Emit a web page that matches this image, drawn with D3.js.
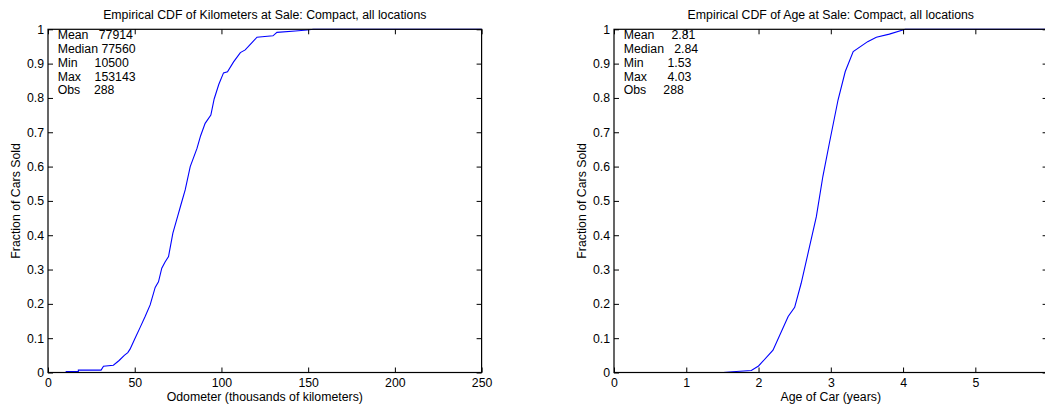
<!DOCTYPE html>
<html>
<head>
<meta charset="utf-8">
<script src="https://cdn.jsdelivr.net/npm/d3@7"></script>
<style>
body { margin: 0; background: #fff; }
svg text { font-family: "Liberation Sans", Arial, Helvetica, sans-serif; font-size: 12.3px; fill: #000; }
.stats text { white-space: pre; }
</style>
</head>
<body>
<div id="chart"></div>
<script>
// odometer CDF (thousands of km)
var kmValues = [0, 10.5, 10.5, 17.5, 17.5, 30.6, 32, 37.7, 41, 44, 46, 47.3, 50.2, 53, 56, 58.9, 61.8, 63.7,
    65.6, 67.5, 69.5, 72, 74.7, 76.6, 79.1, 82, 85.9, 88, 90.6, 93.9, 95.8, 98.5, 101.2, 103.5, 107, 110.9,
    113.7, 117.6, 120.5, 125, 129.7, 132, 142.6, 149.4, 153.1, 250];
var kmFraction = [0, 0, 0.003, 0.003, 0.007, 0.007, 0.018, 0.021, 0.035, 0.05, 0.058, 0.068, 0.1, 0.13, 0.163,
    0.197, 0.248, 0.264, 0.304, 0.322, 0.338, 0.406, 0.454, 0.488, 0.532, 0.6, 0.653, 0.69, 0.726, 0.75, 0.797,
    0.84, 0.873, 0.876, 0.905, 0.932, 0.94, 0.961, 0.977, 0.979, 0.981, 0.991, 0.995, 0.998, 1, 1];

// age CDF (years)
var ageValues = [0, 1.51, 1.64, 1.90, 2.00, 2.20, 2.41, 2.50, 2.59, 2.69, 2.80, 2.89, 2.98, 3.10, 3.20, 3.31,
    3.51, 3.63, 3.81, 4.03, 6];
var ageFraction = [0, 0, 0.002, 0.006, 0.019, 0.065, 0.163, 0.19, 0.26, 0.352, 0.454, 0.571, 0.668, 0.794,
    0.877, 0.935, 0.964, 0.977, 0.986, 1, 1];

var kmStats = ["Mean   77914", "Median 77560", "Min     10500", "Max    153143", "Obs    288"];
var ageStats = ["Mean     2.81", "Median   2.84", "Min       1.53", "Max      4.03", "Obs     288"];

var kmTicks = [0, 50, 100, 150, 200, 250];
var ageTicks = [0, 1, 2, 3, 4, 5];
var fracTicks = [0, 0.1, 0.2, 0.3, 0.4, 0.5, 0.6, 0.7, 0.8, 0.9, 1];

var svg = d3.select("#chart").append("svg")
    .attr("width", 1045)
    .attr("height", 408);

var plotTop = 29.3, plotBottom = 372.5, plotWidth = 433.6;

function drawPanel(opt) {
    var left = opt.left;
    var x = d3.scaleLinear().domain(opt.xDomain).range([left, left + plotWidth]);
    var y = d3.scaleLinear().domain([0, 1]).range([plotBottom, plotTop]);
    var g = svg.append("g");

    // data line
    var pts = opt.xs.map(function(v, i) { return [v, opt.ys[i]]; });
    g.append("path")
        .datum(pts)
        .attr("fill", "none")
        .attr("stroke", "#0000ff")
        .attr("stroke-width", 1.1)
        .attr("d", d3.line().x(function(d) { return x(d[0]); }).y(function(d) { return y(d[1]); }));

    // axes, ticks inward like matlab
    var bottom = g.append("g")
        .attr("transform", "translate(0," + plotBottom + ")")
        .call(d3.axisBottom(x).tickValues(opt.xTicks).tickSizeInner(-5).tickSizeOuter(0).tickPadding(6)
            .tickFormat(d3.format("~g")));
    var leftAx = g.append("g")
        .attr("transform", "translate(" + left + ",0)")
        .call(d3.axisLeft(y).tickValues(fracTicks).tickSizeInner(-5).tickSizeOuter(0).tickPadding(4)
            .tickFormat(d3.format("~g")));
    var topAx = g.append("g")
        .attr("transform", "translate(0," + plotTop + ")")
        .call(d3.axisTop(x).tickValues(opt.xTicks).tickSizeInner(-5).tickSizeOuter(0).tickFormat(""));
    var rightAx = g.append("g")
        .attr("transform", "translate(" + (left + plotWidth) + ",0)")
        .call(d3.axisRight(y).tickValues(fracTicks).tickSizeInner(-5).tickSizeOuter(0).tickFormat(""));

    [bottom, leftAx, topAx, rightAx].forEach(function(a) {
        a.attr("font-size", null).attr("font-family", null);
        a.select(".domain").remove();
        a.selectAll(".tick line").attr("stroke", "#000").attr("stroke-width", 1);
    });

    g.append("rect")
        .attr("x", left)
        .attr("y", plotTop)
        .attr("width", plotWidth)
        .attr("height", plotBottom - plotTop)
        .attr("fill", "none")
        .attr("stroke", "#000")
        .attr("stroke-width", 1.2);

    // title + labels
    g.append("text")
        .attr("x", left + plotWidth / 2)
        .attr("y", 19)
        .attr("text-anchor", "middle")
        .text(opt.title);
    g.append("text")
        .attr("x", left + plotWidth / 2)
        .attr("y", 401)
        .attr("text-anchor", "middle")
        .text(opt.xLabel);
    g.append("text")
        .attr("transform", "translate(" + (left - 28) + "," + ((plotTop + plotBottom) / 2) + ") rotate(-90)")
        .attr("text-anchor", "middle")
        .text("Fraction of Cars Sold");

    // stats box text
    g.append("g").attr("class", "stats")
        .selectAll("text").data(opt.stats)
        .enter().append("text")
        .attr("xml:space", "preserve")
        .attr("x", left + 9.7)
        .attr("y", function(d, i) { return 39.4 + i * 13.7; })
        .text(function(d) { return d; });
}

drawPanel({
    left: 48,
    xDomain: [0, 250],
    xTicks: kmTicks,
    xs: kmValues,
    ys: kmFraction,
    stats: kmStats,
    title: "Empirical CDF of Kilometers at Sale: Compact, all locations",
    xLabel: "Odometer (thousands of kilometers)"
});

drawPanel({
    left: 614,
    xDomain: [0, 6],
    xTicks: ageTicks,
    xs: ageValues,
    ys: ageFraction,
    stats: ageStats,
    title: "Empirical CDF of Age at Sale: Compact, all locations",
    xLabel: "Age of Car (years)"
});
</script>
</body>
</html>
